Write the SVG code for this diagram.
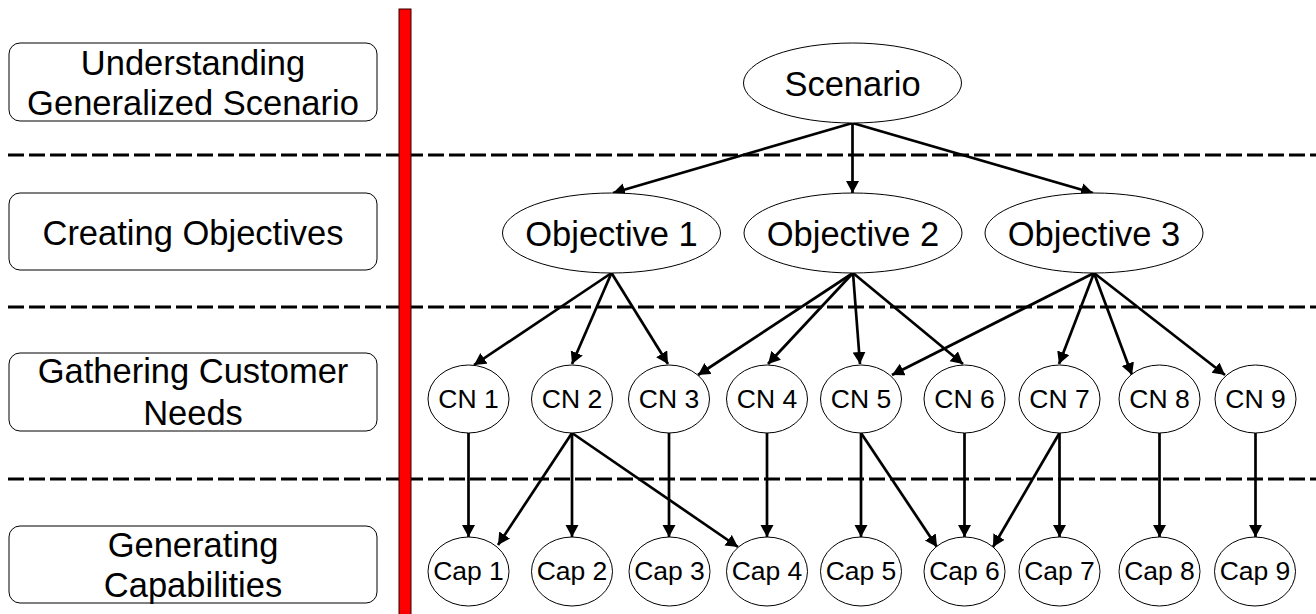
<svg xmlns="http://www.w3.org/2000/svg" width="1316" height="614" viewBox="0 0 1316 614">
<defs>
<style>
.dash{stroke:#000;stroke-width:3;stroke-dasharray:16 5;fill:none}
.box{fill:#fff;stroke:#000;stroke-width:1}
.nd{fill:#fff;stroke:#000;stroke-width:1}
.lbl{font-family:"Liberation Sans",Arial,sans-serif;font-size:34.5px;fill:#000;text-anchor:middle}
.big{font-family:"Liberation Sans",Arial,sans-serif;font-size:34.5px;fill:#000;text-anchor:middle}
.sm{font-family:"Liberation Sans",Arial,sans-serif;font-size:26.5px;fill:#000;text-anchor:middle}
.cn line{stroke:#000;stroke-width:2.7;marker-end:url(#ah)}
</style>
<marker id="ah" markerUnits="userSpaceOnUse" markerWidth="14" markerHeight="14" refX="12" refY="6.5" orient="auto">
<path d="M0,0 L12,6.5 L0,13 Z" fill="#000"/>
</marker>
</defs>
<rect width="1316" height="614" fill="#fff"/>
<g id="separators">
<line class="dash" x1="8" y1="155" x2="1316" y2="155"/>
<line class="dash" x1="8" y1="307" x2="1316" y2="307"/>
<line class="dash" x1="8" y1="479" x2="1316" y2="479"/>
</g>
<rect id="redbar" x="399" y="9" width="12" height="610" fill="#f00" stroke="#300" stroke-width="1"/>
<g id="stage1"><rect class="box" x="9" y="43" width="368" height="78" rx="11"/><text class="lbl" x="193" y="75">Understanding</text><text class="lbl" x="193" y="115">Generalized Scenario</text></g>
<g id="stage2"><rect class="box" x="9" y="193" width="368" height="77" rx="11"/><text class="lbl" x="193" y="245">Creating Objectives</text></g>
<g id="stage3"><rect class="box" x="9" y="353" width="368" height="78" rx="11"/><text class="lbl" x="193" y="383">Gathering Customer</text><text class="lbl" x="193" y="425">Needs</text></g>
<g id="stage4"><rect class="box" x="9" y="526" width="368" height="77" rx="11"/><text class="lbl" x="193" y="557">Generating</text><text class="lbl" x="193" y="597">Capabilities</text></g>
<g id="connectors" class="cn">
<line x1="852.5" y1="123" x2="613" y2="193"/>
<line x1="852.5" y1="123" x2="852.5" y2="193"/>
<line x1="852.5" y1="123" x2="1093" y2="193"/>
<line x1="611.5" y1="273" x2="474" y2="365"/>
<line x1="611.5" y1="273" x2="572" y2="364"/>
<line x1="611.5" y1="273" x2="668" y2="364"/>
<line x1="853" y1="273" x2="698" y2="375"/>
<line x1="853" y1="273" x2="768" y2="364"/>
<line x1="853" y1="273" x2="860" y2="364"/>
<line x1="853" y1="273" x2="963" y2="364"/>
<line x1="1094" y1="273" x2="892" y2="375"/>
<line x1="1094" y1="273" x2="1059" y2="364"/>
<line x1="1094" y1="273" x2="1132" y2="375"/>
<line x1="1094" y1="273" x2="1225" y2="375"/>
<line x1="468.5" y1="433" x2="468.5" y2="537"/>
<line x1="572" y1="433" x2="498" y2="545"/>
<line x1="572" y1="433" x2="572" y2="537"/>
<line x1="572" y1="433" x2="738" y2="547"/>
<line x1="669" y1="433" x2="669" y2="537"/>
<line x1="767" y1="433" x2="767" y2="537"/>
<line x1="861" y1="433" x2="861" y2="537"/>
<line x1="861" y1="433" x2="937" y2="547"/>
<line x1="964.5" y1="433" x2="964.5" y2="537"/>
<line x1="1059.5" y1="433" x2="993" y2="547"/>
<line x1="1059.5" y1="433" x2="1059.5" y2="537"/>
<line x1="1159.5" y1="433" x2="1159.5" y2="537"/>
<line x1="1255.5" y1="433" x2="1255.5" y2="537"/>
</g>
<g id="scenario"><ellipse class="nd" cx="852.5" cy="83" rx="109" ry="40"/><text class="big" x="852.5" y="96">Scenario</text></g>
<g id="obj1"><ellipse class="nd" cx="611.5" cy="233" rx="109" ry="40"/><text class="big" x="611.5" y="246">Objective 1</text></g>
<g id="obj2"><ellipse class="nd" cx="853" cy="233" rx="109" ry="40"/><text class="big" x="853" y="246">Objective 2</text></g>
<g id="obj3"><ellipse class="nd" cx="1094" cy="233" rx="109" ry="40"/><text class="big" x="1094" y="246">Objective 3</text></g>
<g id="cn1"><ellipse class="nd" cx="468.5" cy="399" rx="40.5" ry="34"/><text class="sm" x="468.5" y="408">CN 1</text></g>
<g id="cn2"><ellipse class="nd" cx="572" cy="399" rx="40.5" ry="34"/><text class="sm" x="572" y="408">CN 2</text></g>
<g id="cn3"><ellipse class="nd" cx="669" cy="399" rx="40.5" ry="34"/><text class="sm" x="669" y="408">CN 3</text></g>
<g id="cn4"><ellipse class="nd" cx="767" cy="399" rx="40.5" ry="34"/><text class="sm" x="767" y="408">CN 4</text></g>
<g id="cn5"><ellipse class="nd" cx="861" cy="399" rx="40.5" ry="34"/><text class="sm" x="861" y="408">CN 5</text></g>
<g id="cn6"><ellipse class="nd" cx="964.5" cy="399" rx="40.5" ry="34"/><text class="sm" x="964.5" y="408">CN 6</text></g>
<g id="cn7"><ellipse class="nd" cx="1059.5" cy="399" rx="40.5" ry="34"/><text class="sm" x="1059.5" y="408">CN 7</text></g>
<g id="cn8"><ellipse class="nd" cx="1159.5" cy="399" rx="40.5" ry="34"/><text class="sm" x="1159.5" y="408">CN 8</text></g>
<g id="cn9"><ellipse class="nd" cx="1255.5" cy="399" rx="40.5" ry="34"/><text class="sm" x="1255.5" y="408">CN 9</text></g>
<g id="cap1"><ellipse class="nd" cx="468.5" cy="571.5" rx="40.5" ry="34.5"/><text class="sm" x="468.5" y="580">Cap 1</text></g>
<g id="cap2"><ellipse class="nd" cx="572" cy="571.5" rx="40.5" ry="34.5"/><text class="sm" x="572" y="580">Cap 2</text></g>
<g id="cap3"><ellipse class="nd" cx="669.5" cy="571.5" rx="40.5" ry="34.5"/><text class="sm" x="669.5" y="580">Cap 3</text></g>
<g id="cap4"><ellipse class="nd" cx="767" cy="571.5" rx="40.5" ry="34.5"/><text class="sm" x="767" y="580">Cap 4</text></g>
<g id="cap5"><ellipse class="nd" cx="861" cy="571.5" rx="40.5" ry="34.5"/><text class="sm" x="861" y="580">Cap 5</text></g>
<g id="cap6"><ellipse class="nd" cx="964.5" cy="571.5" rx="40.5" ry="34.5"/><text class="sm" x="964.5" y="580">Cap 6</text></g>
<g id="cap7"><ellipse class="nd" cx="1059.5" cy="571.5" rx="40.5" ry="34.5"/><text class="sm" x="1059.5" y="580">Cap 7</text></g>
<g id="cap8"><ellipse class="nd" cx="1159.5" cy="571.5" rx="40.5" ry="34.5"/><text class="sm" x="1159.5" y="580">Cap 8</text></g>
<g id="cap9"><ellipse class="nd" cx="1255" cy="571.5" rx="40.5" ry="34.5"/><text class="sm" x="1255" y="580">Cap 9</text></g>
</svg>
